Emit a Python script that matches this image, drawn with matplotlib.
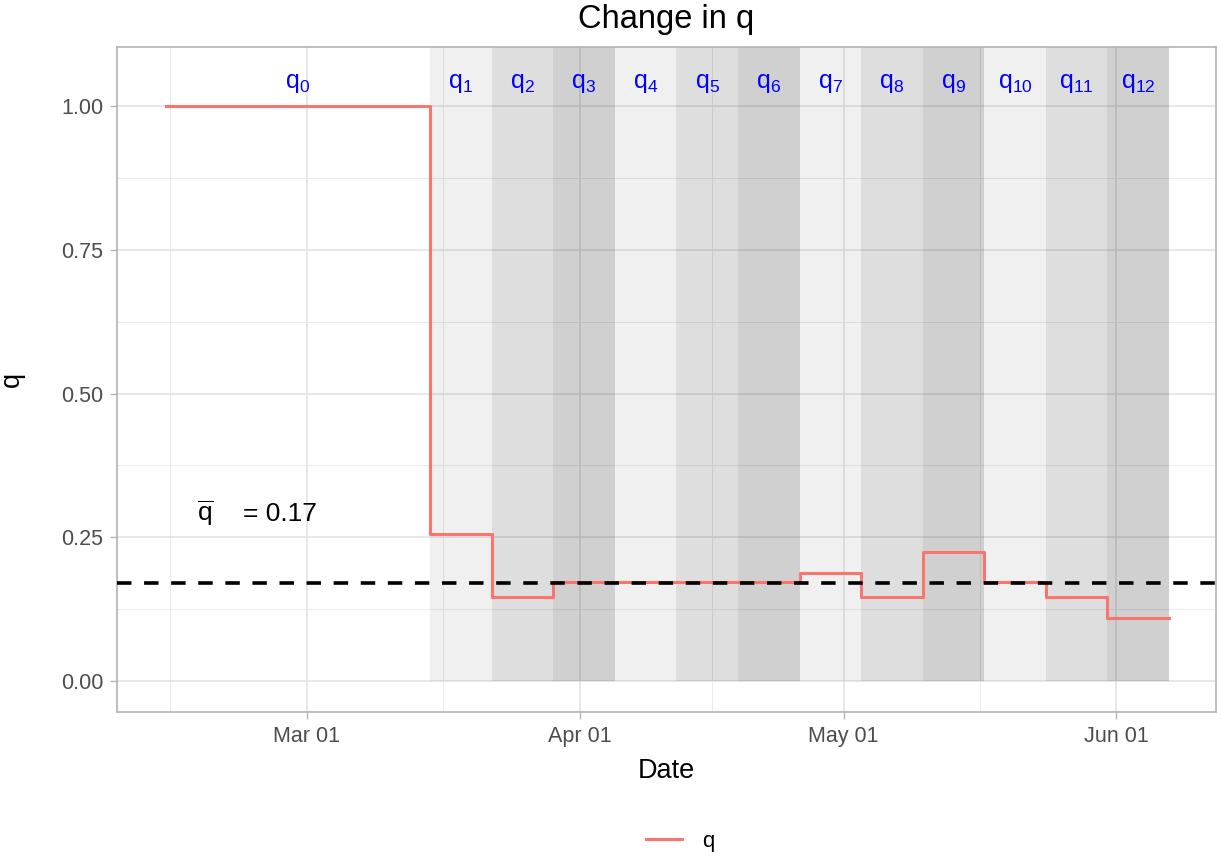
import matplotlib
matplotlib.use("Agg")
import matplotlib.pyplot as plt
import matplotlib.dates as mdates
import pandas as pd

# --- data ---
period_starts = ["2020-02-14", "2020-03-15", "2020-03-22", "2020-03-29", "2020-04-05",
                 "2020-04-12", "2020-04-19", "2020-04-26", "2020-05-03", "2020-05-10",
                 "2020-05-17", "2020-05-24", "2020-05-31"]
period_end = "2020-06-07"
q_values = [1.00, 0.256, 0.146, 0.172, 0.172, 0.172, 0.172, 0.188, 0.146, 0.224,
            0.172, 0.146, 0.110]
q_labels = [f"$\\mathregular{{q_{{{i}}}}}$" for i in range(13)]
q_mean = 0.17
band_alpha = [0.06, 0.13, 0.185]  # light / medium / dark grey bands

starts = pd.to_datetime(period_starts)
edges = list(starts) + [pd.Timestamp(period_end)]

plt.rcParams['font.family'] = ['Liberation Sans', 'DejaVu Sans']

fig = plt.figure(figsize=(12.21, 8.57), dpi=100)
ax = fig.add_axes([0.0958, 0.1692, 0.9001, 0.776])

# --- shaded weekly bands (q1..q12), semi transparent so grid shows through ---
for i in range(1, len(starts)):
    ax.fill_between([edges[i], edges[i + 1]], 0, 2, color="black",
                    alpha=band_alpha[(i - 1) % 3], zorder=1, linewidth=0)

# --- step line + mean ---
ax.step(edges, q_values + [q_values[-1]], where="post", color="#F8766D", lw=2.2,
        zorder=3, label="q")
ax.axhline(q_mean, color="black", lw=2.6, linestyle=(0, (4, 3.5)), zorder=4)

# --- labels over the bands ---
for i, lab in enumerate(q_labels):
    mid = edges[i] + (edges[i + 1] - edges[i]) / 2
    ax.text(mid, 1.04, lab, color="blue", fontsize=18, ha="center", va="center", zorder=5)

ax.text(pd.Timestamp("2020-02-18 12:00"), 0.292, r"$\overline{\mathregular{q}}$", fontsize=19,
        ha="center", va="center")
ax.text(pd.Timestamp("2020-02-22 18:00"), 0.29, "= 0.17", fontsize=19, ha="left", va="center")

# --- axes ---
ax.set_xlim(pd.Timestamp("2020-02-08 10:00"), pd.Timestamp("2020-06-12 08:00"))
ax.set_ylim(-0.054, 1.103)
major = pd.to_datetime(["2020-03-01", "2020-04-01", "2020-05-01", "2020-06-01"])
minor = [major[0] - (major[1] - major[0]) / 2] + \
        [major[k] + (major[k + 1] - major[k]) / 2 for k in range(3)]
ax.set_xticks(major)
ax.set_xticks(minor, minor=True)
ax.xaxis.set_major_formatter(mdates.DateFormatter("%b %d"))
ax.set_yticks([0, 0.25, 0.5, 0.75, 1.0])
ax.set_yticklabels(["0.00", "0.25", "0.50", "0.75", "1.00"])
ax.set_yticks([0.125, 0.375, 0.625, 0.875], minor=True)

ax.grid(which="major", color="#E2E2E2", lw=1.1, zorder=0)
ax.grid(which="minor", color="#EAEAEA", lw=0.7, zorder=0)
ax.set_axisbelow(True)
ax.tick_params(which="major", length=5, width=1.0, color="#B3B3B3", labelsize=15.5,
               labelcolor="#4D4D4D", pad=5)
ax.tick_params(which="minor", length=0)
for s in ax.spines.values():
    s.set_color("#B3B3B3")
    s.set_linewidth(1.2)

ax.set_xlabel("Date", fontsize=19.5, labelpad=8)
ax.set_ylabel("q", fontsize=19.5, labelpad=26)
ax.set_title("Change in q", fontsize=23.5, pad=14)

fig.legend(loc="center", bbox_to_anchor=(0.557, 0.018), frameon=False, fontsize=16,
           handlelength=1.6, handletextpad=0.9)

fig.savefig("out.png", dpi=100)
